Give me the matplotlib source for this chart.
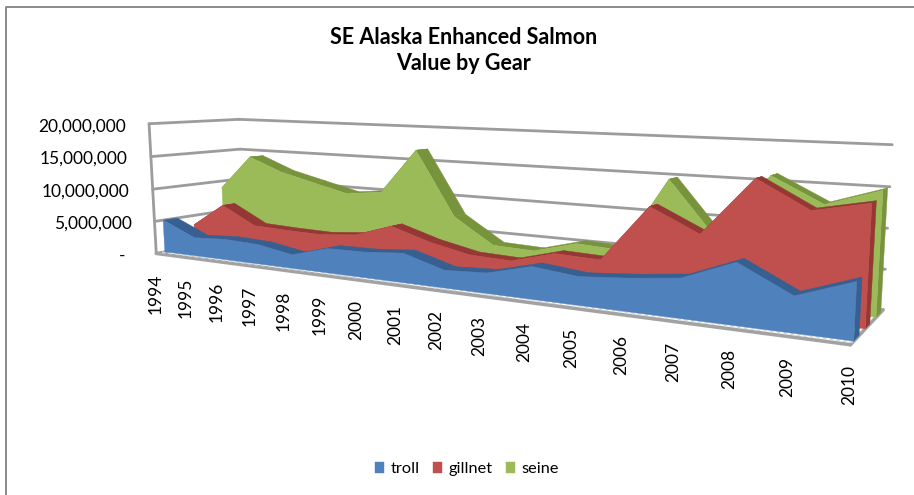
import numpy as np
import matplotlib
matplotlib.use("Agg")
import matplotlib.pyplot as plt

plt.rcParams['font.family'] = ['Lato', 'DejaVu Sans']

years = list(range(1994, 2011))
troll = [5000000, 2800000, 3100000, 2900000, 2000000, 3500000, 3600000, 4050000, 2400000,
         2700000, 4200000, 3600000, 4100000, 4800000, 7300000, 4200000, 6500000]
gillnet = [3500000, 7100000, 4400000, 4200000, 4100000, 4600000, 6400000, 4700000, 3500000,
           3300000, 4900000, 4700000, 12000000, 9100000, 16200000, 12900000, 14200000]
seine = [8900000, 14300000, 12200000, 10900000, 9600000, 10200000, 16800000, 7500000, 3900000,
         3700000, 5300000, 5000000, 14800000, 7600000, 16000000, 12900000, 15000000]
y_ticks = [0, 5000000, 10000000, 15000000, 20000000]
y_labels = ['-', '5,000,000', '10,000,000', '15,000,000', '20,000,000']

# control points for the excel style 3d box: (u, v, d) -> pixel
box_pts = [
    ((0, 0, 0), (157, 253)), ((0, 1, 0), (148, 125)), ((0, 0, 1), (243, 238)), ((0, 1, 1), (240, 118)),
    ((1, 0, 0), (851, 345)), ((1, 0, 1), (883, 310)), ((1, 1, 1), (892, 145)), ((0.5, 0, 0), (437, 290)),
    ((0.25, 0, 0), (285, 270)), ((0.75, 0, 0), (622, 314)),
]
rows = []
for (u, v, d), (px, py) in box_pts:
    rows.append([u, v, d, 1, 0, 0, 0, 0, -px * u, -px * v, -px * d, -px])
    rows.append([0, 0, 0, 0, u, v, d, 1, -py * u, -py * v, -py * d, -py])
cam = np.linalg.svd(np.array(rows, dtype=float))[2][-1].reshape(3, 4)


def project(year, value, depth):
    year, value = np.broadcast_arrays(np.asarray(year, dtype=float), np.asarray(value, dtype=float))
    depth = np.broadcast_to(depth, year.shape)
    pts = np.stack([(year - 1994) / 16, value / 20000000, depth, np.ones(year.shape)])
    out = cam @ pts.reshape(4, -1)
    return (out[0] / out[2]).reshape(year.shape), (out[1] / out[2]).reshape(year.shape)


def grid_line(ax, y0, y1, d0, d1, v0, v1, **kw):
    x_a, y_a = project(y0, v0, d0)
    x_b, y_b = project(y1, v1, d1)
    ax.plot([x_a, x_b], [y_a, y_b], solid_capstyle='round', **kw)


def draw_area(ax, values, d0, d1, face, dark, label):
    yrs = np.array(years)
    vals = np.array(values)
    for i in range(len(yrs) - 1):
        xf, yf = project(yrs[i:i + 2], vals[i:i + 2], d0)
        xb, yb = project(yrs[i:i + 2], vals[i:i + 2], d1)
        ax.fill(np.r_[xf, xb[::-1]], np.r_[yf, yb[::-1]], color=dark, lw=0.3, zorder=3)
    # right hand end cap
    xf, yf = project([2010, 2010], [values[-1], 0], d0)
    xb, yb = project([2010, 2010], [0, values[-1]], d1)
    ax.fill(np.r_[xf, xb], np.r_[yf, yb], color=dark, lw=0.3, zorder=3)
    xs, ys = project(np.r_[yrs, yrs[-1], yrs[0]], np.r_[vals, 0, 0], d0)
    ax.fill(xs, ys, color=face, lw=0.3, zorder=3, label=label)


fig = plt.figure(figsize=(9.14, 4.95), dpi=100)
ax = fig.add_axes([0, 0, 1, 1])
ax.set_xlim(0, 914)
ax.set_ylim(495, 0)
ax.axis('off')

# only the top and left of the chart border are in the picture
ax.plot([5.5, 5.5, 914], [495, 7, 7], color='#8a8a8a', lw=1.4)

wall = dict(color='#9c9c9c', lw=2, zorder=2)
for v in y_ticks:
    grid_line(ax, 1994, 1994, 0, 1, v, v, **wall)
    grid_line(ax, 1994, 2010, 1, 1, v, v, **wall)
grid_line(ax, 1994, 1994, 0, 0, 0, 20000000, **wall)
# floor
grid_line(ax, 1994, 2010, 0, 0, 0, 0, color='#a2a2a2', lw=2.6, zorder=2)
grid_line(ax, 2010, 2010, 0, 1, 0, 0, color='#a2a2a2', lw=2.6, zorder=2)
grid_line(ax, 1994, 2010, 0.06, 0.06, 0, 0, color='#d8d8d8', lw=1.2, ls=(0, (2, 2)), zorder=2.5)

draw_area(ax, seine, 0.76, 0.92, '#9bbb59', '#77933c', 'seine')
draw_area(ax, gillnet, 0.42, 0.56, '#c0504d', '#953735', 'gillnet')
draw_area(ax, troll, 0.09, 0.24, '#4f81bd', '#376092', 'troll')

for v, lab in zip(y_ticks, y_labels):
    x, y = project(1994, v, 0)
    off = 31 if lab == '-' else 23
    dy = 3 if v == 20000000 else 2
    ax.text(float(x) - off, float(y) + dy, lab, ha='right', va='center', fontsize=12.5, color='black')

for yr in years:
    x, y = project(yr, 0, 0)
    ax.text(float(x) - 1, float(y) + 20, str(yr), rotation=90, ha='center', va='top', fontsize=12.5, color='black')

ax.text(464, 37, 'SE Alaska Enhanced Salmon', ha='center', va='center', fontsize=15.5, fontweight='bold')
ax.text(464, 63, 'Value by Gear', ha='center', va='center', fontsize=15.5, fontweight='bold')

handles, labels = ax.get_legend_handles_labels()
ax.legend(handles[::-1], labels[::-1], ncol=3, frameon=False, loc='center', bbox_to_anchor=(467, 469),
          bbox_transform=ax.transData, fontsize=11.8, handlelength=0.55, handleheight=0.65,
          handletextpad=0.4, columnspacing=0.8)

fig.savefig('out.png', dpi=100)
